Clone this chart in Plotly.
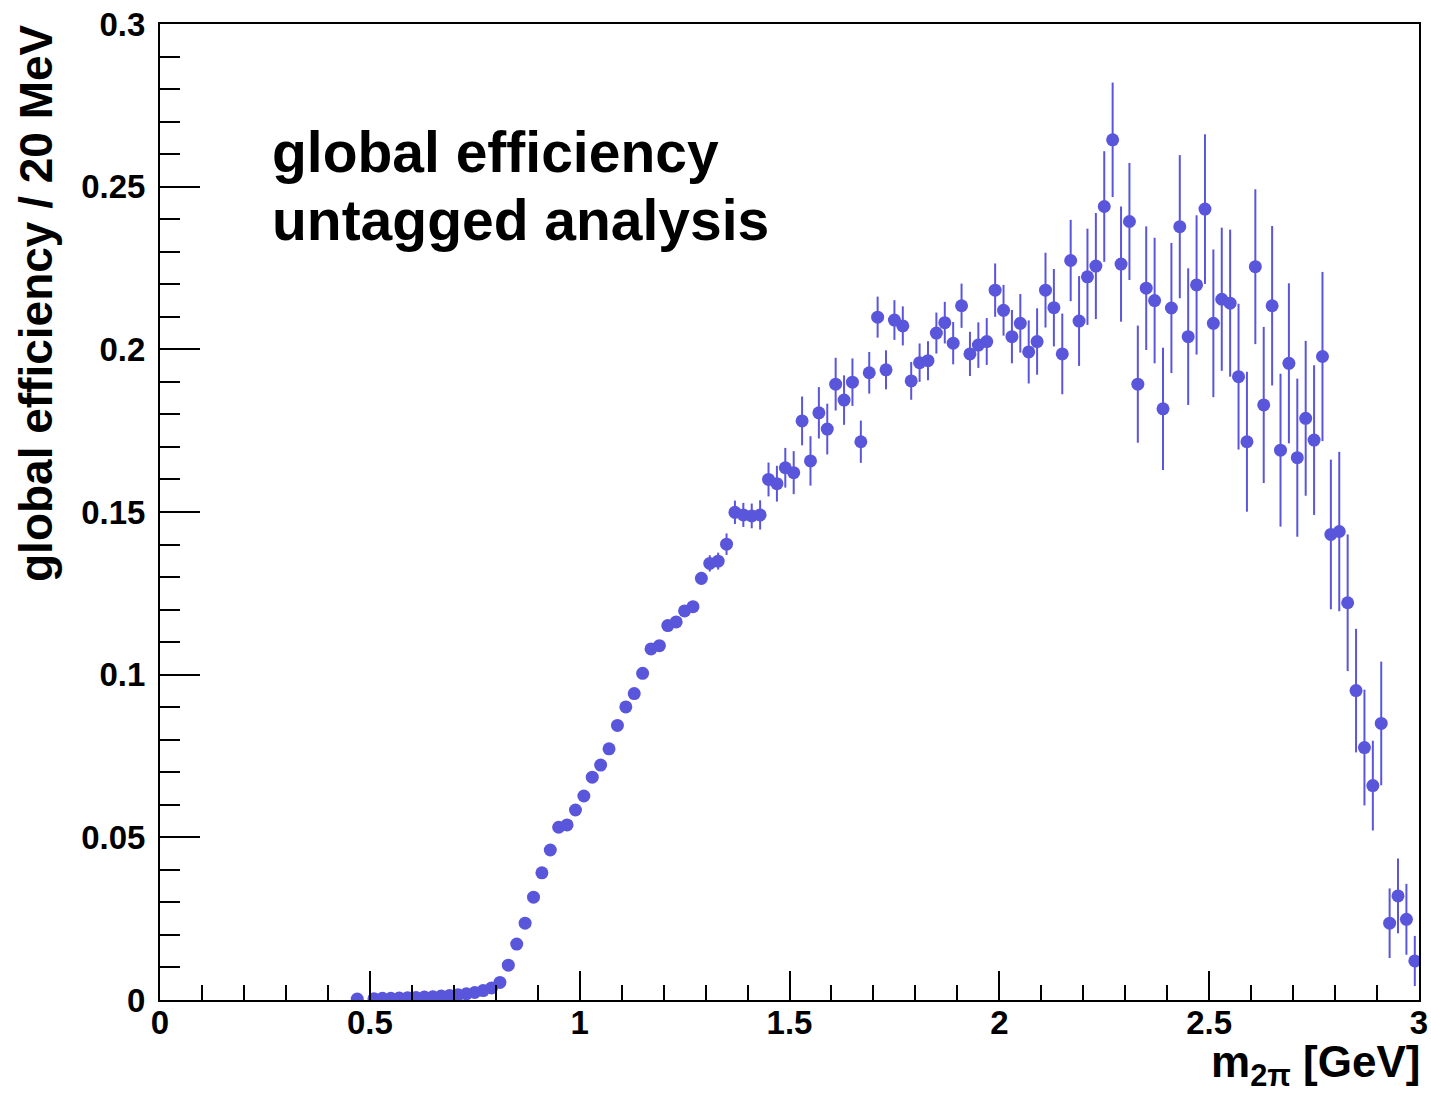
import plotly.graph_objects as go

# bin centres (GeV), 20 MeV bins
mass = [0.47, 0.49, 0.51, 0.53, 0.55, 0.57, 0.59, 0.61, 0.63, 0.65, 0.67, 0.69,
        0.71, 0.73, 0.75, 0.77, 0.79, 0.81, 0.83, 0.85, 0.87, 0.89, 0.91, 0.93,
        0.95, 0.97, 0.99, 1.01, 1.03, 1.05, 1.07, 1.09, 1.11, 1.13, 1.15, 1.17,
        1.19, 1.21, 1.23, 1.25, 1.27, 1.29, 1.31, 1.33, 1.35, 1.37, 1.39, 1.41,
        1.43, 1.45, 1.47, 1.49, 1.51, 1.53, 1.55, 1.57, 1.59, 1.61, 1.63, 1.65,
        1.67, 1.69, 1.71, 1.73, 1.75, 1.77, 1.79, 1.81, 1.83, 1.85, 1.87, 1.89,
        1.91, 1.93, 1.95, 1.97, 1.99, 2.01, 2.03, 2.05, 2.07, 2.09, 2.11, 2.13,
        2.15, 2.17, 2.19, 2.21, 2.23, 2.25, 2.27, 2.29, 2.31, 2.33, 2.35, 2.37,
        2.39, 2.41, 2.43, 2.45, 2.47, 2.49, 2.51, 2.53, 2.55, 2.57, 2.59, 2.61,
        2.63, 2.65, 2.67, 2.69, 2.71, 2.73, 2.75, 2.77, 2.79, 2.81, 2.83, 2.85,
        2.87, 2.89, 2.91, 2.93, 2.95, 2.97, 2.99]

efficiency = [0.0003, None, 0.0004, 0.0005, 0.0005, 0.0006, 0.0007, 0.0008, 0.0009, 0.0010, 0.0012, 0.0014,
              0.0016, 0.0019, 0.0023, 0.0029, 0.0037, 0.0054, 0.0107, 0.0172, 0.0236, 0.0316, 0.0391, 0.0461,
              0.0531, 0.0538, 0.0584, 0.0627, 0.0685, 0.0722, 0.0772, 0.0844, 0.0901, 0.0942, 0.1004, 0.1079,
              0.1089, 0.1151, 0.1162, 0.1196, 0.1209, 0.1296, 0.1342, 0.1349, 0.1401, 0.1499, 0.1491, 0.1488,
              0.1491, 0.1600, 0.1587, 0.1636, 0.1621, 0.1780, 0.1657, 0.1805, 0.1755, 0.1893, 0.1844, 0.1899,
              0.1716, 0.1928, 0.2099, 0.1937, 0.2090, 0.2072, 0.1903, 0.1959, 0.1965, 0.2050, 0.2082, 0.2019,
              0.2134, 0.1986, 0.2013, 0.2024, 0.2182, 0.2120, 0.2039, 0.2080, 0.1992, 0.2024, 0.2182, 0.2128,
              0.1986, 0.2273, 0.2087, 0.2223, 0.2256, 0.2439, 0.2644, 0.2262, 0.2393, 0.1893, 0.2188, 0.2150,
              0.1817, 0.2127, 0.2377, 0.2039, 0.2198, 0.2431, 0.2080, 0.2154, 0.2142, 0.1916, 0.1716, 0.2254,
              0.1829, 0.2134, 0.1690, 0.1957, 0.1667, 0.1788, 0.1721, 0.1978, 0.1431, 0.1440, 0.1221, 0.0951,
              0.0776, 0.0659, 0.0850, 0.0236, 0.0320, 0.0248, 0.0120]

errors = [0.0002, None, 0.0002, 0.0002, 0.0002, 0.0002, 0.0003, 0.0003, 0.0003, 0.0003, 0.0003, 0.0004,
          0.0004, 0.0004, 0.0005, 0.0005, 0.0005, 0.0006, 0.0006, 0.0007, 0.0007, 0.0008, 0.0008, 0.0009,
          0.0009, 0.0010, 0.0010, 0.0011, 0.0011, 0.0012, 0.0012, 0.0013, 0.0013, 0.0014, 0.0014, 0.0015,
          0.0015, 0.0016, 0.0016, 0.0017, 0.0018, 0.0020, 0.0025, 0.0026, 0.0033, 0.0036, 0.0037, 0.0038,
          0.0045, 0.0052, 0.0055, 0.0061, 0.0066, 0.0075, 0.0076, 0.0079, 0.0078, 0.0081, 0.0076, 0.0073,
          0.0065, 0.0064, 0.0063, 0.0060, 0.0061, 0.0060, 0.0058, 0.0059, 0.0060, 0.0063, 0.0064, 0.0065,
          0.0068, 0.0068, 0.0070, 0.0072, 0.0082, 0.0078, 0.0082, 0.0090, 0.0097, 0.0102, 0.0115, 0.0119,
          0.0124, 0.0125, 0.0138, 0.0148, 0.0163, 0.0170, 0.0176, 0.0177, 0.0180, 0.0180, 0.0190, 0.0193,
          0.0188, 0.0200, 0.0220, 0.0210, 0.0214, 0.0230, 0.0227, 0.0220, 0.0226, 0.0224, 0.0215, 0.0238,
          0.0240, 0.0245, 0.0235, 0.0246, 0.0243, 0.0238, 0.0230, 0.0260, 0.0230, 0.0245, 0.0210, 0.0190,
          0.0178, 0.0138, 0.0190, 0.0107, 0.0115, 0.0109, 0.0077]

MARK = "rgb(90,86,220)"
FONT = "Liberation Sans, Arial, Helvetica, sans-serif"

fig = go.Figure()
fig.add_trace(go.Scatter(
    x=mass, y=efficiency, mode="markers",
    marker=dict(color=MARK, size=13, line=dict(width=0)),
    error_y=dict(type="data", array=errors, visible=True, color=MARK, thickness=2, width=0),
    showlegend=False,
))

W, H = 1431, 1093
L, T = 160, 24
R = W - 1419
B = H - 1000
pw, ph = W - L - R, H - T - B

def px(xp):
    return (xp - L) / pw

def py(yp):
    return (H - B - yp) / ph

axis_common = dict(
    showline=True, linecolor="black", linewidth=2, mirror=True, automargin=False,
    showgrid=False, zeroline=False, ticks="inside", tickcolor="black", tickwidth=1.5,
    ticklabeloverflow="allow",
    tickfont=dict(family=FONT, size=33, color="black", weight="bold"),
)

fig.update_xaxes(range=[0, 3.000001], tick0=0, dtick=0.5, ticklen=29, ticklabelstandoff=-8,
                 minor=dict(dtick=0.1, ticklen=15, ticks="inside", tickcolor="black",
                            tickwidth=1.5, showgrid=False),
                 **axis_common)
fig.update_yaxes(range=[0, 0.300001], tick0=0, dtick=0.05, ticklen=40, ticklabelstandoff=6,
                 minor=dict(dtick=0.01, ticklen=20, ticks="inside", tickcolor="black",
                            tickwidth=1.5, showgrid=False),
                 **axis_common)

annots = [
    dict(text="global efficiency / 20 MeV", textangle=-90, x=px(36), y=py(22),
         xanchor="center", yanchor="top", font=dict(size=46)),
    dict(text="m<sub>2π</sub> [GeV]", x=1.0, y=py(1065), xanchor="right", yanchor="middle",
         xshift=3, font=dict(size=44)),
    dict(text="global efficiency", x=px(270), y=py(152), xanchor="left", yanchor="middle",
         font=dict(size=57)),
    dict(text="untagged analysis", x=px(270), y=py(220), xanchor="left", yanchor="middle",
         font=dict(size=57)),
]
for a in annots:
    a["font"].update(family=FONT, color="black", weight="bold")
    fig.add_annotation(xref="paper", yref="paper", showarrow=False, **a)

fig.update_layout(
    width=W, height=H,
    margin=dict(l=L, r=R, t=T, b=B, autoexpand=False),
    paper_bgcolor="white", plot_bgcolor="white",
)

fig.write_html("out.html", config={"displayModeBar": False},
               post_script="document.body.style.margin='0';document.body.style.overflow='hidden';")
